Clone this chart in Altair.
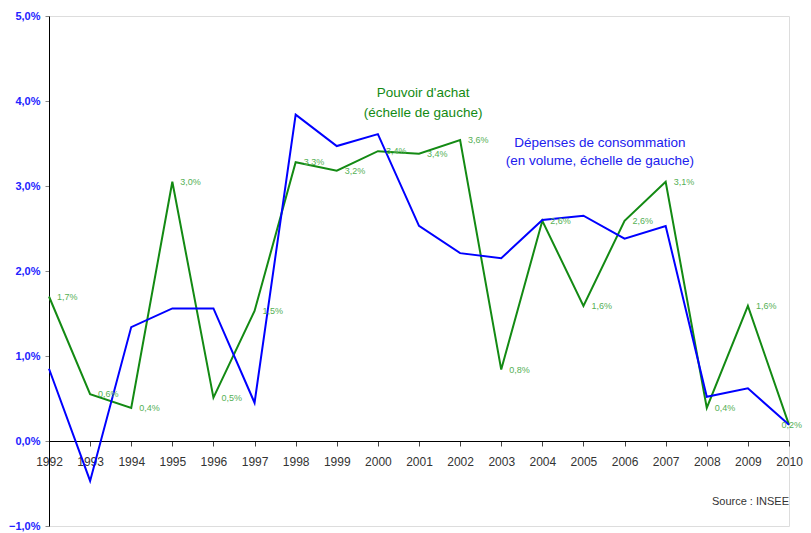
import altair as alt
import pandas as pd

years = list(range(1992, 2011))
pouvoir = [1.70, 0.55, 0.39, 3.05, 0.51, 1.53, 3.28, 3.18, 3.41, 3.38, 3.54,
           0.84, 2.59, 1.59, 2.59, 3.05, 0.39, 1.59, 0.19]
pouvoir_labels = ["1,7%", "0,6%", "0,4%", "3,0%", "0,5%", "1,5%", "3,3%", "3,2%", "3,4%", "3,4%", "3,6%",
                  "0,8%", "2,6%", "1,6%", "2,6%", "3,1%", "0,4%", "1,6%", "0,2%"]
depenses = [0.85, -0.47, 1.34, 1.56, 1.56, 0.45, 3.84, 3.47, 3.61, 2.53, 2.21,
            2.15, 2.60, 2.65, 2.38, 2.53, 0.52, 0.62, 0.19]
y_ticks = [-1, 0, 1, 2, 3, 4, 5]

FONT = "Liberation Sans, Arial"
GREEN = "#138a13"
BLUE = "#0000ff"

df = pd.DataFrame({"annee": years, "pouvoir": pouvoir, "label": pouvoir_labels, "depenses": depenses})
df_main = df.iloc[:-1]
df_last = df.iloc[-1:]

xs = alt.Scale(domain=[1992, 2010], nice=False, zero=False)
ys = alt.Scale(domain=[-1, 5], nice=False)

base = alt.Chart(df)

x_enc = alt.X("annee:Q", scale=xs, title=None,
              axis=alt.Axis(values=years, format="d", offset=-85, grid=False,
                            domainColor="#000000", tickColor="#444444", tickSize=5,
                            labelFont=FONT, labelFontSize=12, labelColor="#333333",
                            labelPadding=10, labelFlush=False))
y_enc = alt.Y("pouvoir:Q", scale=ys, title=None,
              axis=alt.Axis(values=y_ticks, grid=False, domainColor="#000000",
                            tickColor="#888888", tickSize=4,
                            labelExpr="replace(format(datum.value, '.1f'), '.', ',') + '%'",
                            labelFont=FONT, labelFontSize=11, labelFontWeight="bold",
                            labelColor="#2222ff", labelPadding=5))

line_p = base.mark_line(color=GREEN, strokeWidth=2).encode(x=x_enc, y=y_enc)
line_d = base.mark_line(color=BLUE, strokeWidth=2).encode(
    x=alt.X("annee:Q", scale=xs), y=alt.Y("depenses:Q", scale=ys))
labels = alt.Chart(df_main).mark_text(align="left", baseline="middle", dx=8, font=FONT, fontSize=9,
                                      color="#55b055").encode(
    x=alt.X("annee:Q", scale=xs), y=alt.Y("pouvoir:Q", scale=ys), text="label:N")
label_last = alt.Chart(df_last).mark_text(align="right", baseline="middle", dx=13, font=FONT, fontSize=9,
                                          color="#55b055").encode(
    x=alt.X("annee:Q", scale=xs), y=alt.Y("pouvoir:Q", scale=ys), text="label:N")

ann = pd.DataFrame({
    "x": [2001.1, 2001.1, 2005.4, 2005.4],
    "y": [4.10, 3.86, 3.51, 3.29],
    "t": ["Pouvoir d'achat", "(échelle de gauche)", "Dépenses de consommation", "(en volume, échelle de gauche)"],
    "c": ["p", "p", "d", "d"],
})
ann_text = alt.Chart(ann).mark_text(align="center", baseline="middle", font=FONT, fontSize=13.5).encode(
    x=alt.X("x:Q", scale=xs), y=alt.Y("y:Q", scale=ys), text="t:N",
    color=alt.Color("c:N", scale=alt.Scale(domain=["p", "d"], range=[GREEN, "#2020ee"]), legend=None))

src = pd.DataFrame({"x": [2010], "y": [-0.72], "t": ["Source : INSEE"]})
src_text = alt.Chart(src).mark_text(align="right", baseline="middle", font=FONT, fontSize=11,
                                    color="#333333").encode(
    x=alt.X("x:Q", scale=xs), y=alt.Y("y:Q", scale=ys), text="t:N")

chart = alt.layer(line_p, line_d, labels, label_last, ann_text, src_text).properties(
    width=740, height=510,
    autosize=alt.AutoSizeParams(type="none"),
    padding={"left": 41, "top": 8, "right": 14, "bottom": 7},
).configure_view(stroke=None).configure(background="white")

chart.save("out.html", embed_options={"renderer": "svg", "actions": False})
